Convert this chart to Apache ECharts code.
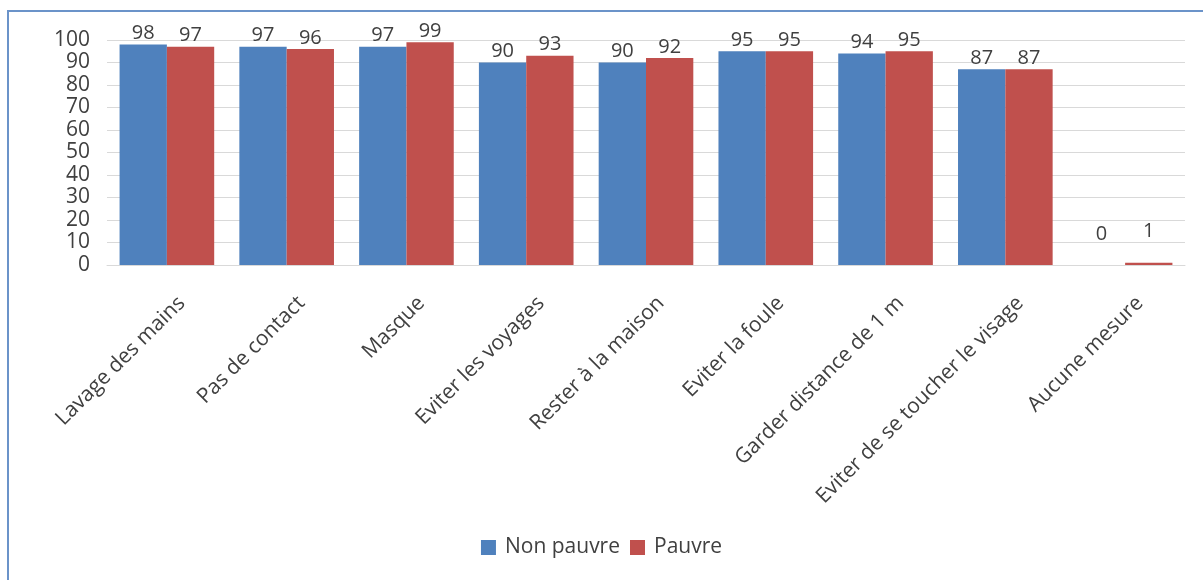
<!DOCTYPE html>
<html>
<head>
<meta charset="utf-8">
<script src="https://cdn.jsdelivr.net/npm/echarts@6/dist/echarts.min.js"></script>
<style>
  html, body { margin: 0; padding: 0; background: #fff; overflow: hidden; }
  #frame {
    position: absolute; left: 7px; top: 10px; width: 1300px; height: 700px;
    border: 2px solid #6b93c9; box-sizing: border-box;
  }
  #charts { position: absolute; left: 0; top: 0; width: 1203px; height: 580px; }
</style>
</head>
<body>
<div id="frame"></div>
<div id="charts"></div>
<script>
// categories / series
const categories = [
  'Lavage des mains', 'Pas de contact', 'Masque', 'Eviter les voyages',
  'Rester à la maison', 'Eviter la foule', 'Garder distance de 1 m',
  'Eviter de se toucher le visage', 'Aucune mesure'
]
const nonPauvre = [98, 97, 97, 90, 90, 95, 94, 87, 0]
const pauvre = [97, 96, 99, 93, 92, 95, 95, 87, 1]
const seriesNames = ['Non pauvre', 'Pauvre']

const txt = '#404040'
const font = '"Open Sans", "DejaVu Sans", sans-serif'

const chart = echarts.init(document.getElementById('charts'))

function barSeries(name, data, color) {
  return {
    name: name,
    type: 'bar',
    // tiny bars get their label lifted a bit, like the excel original
    data: data.map(v => v < 5 ? {value: v, label: {distance: 21}} : v),
    barGap: '0%',
    barCategoryGap: '21%',
    itemStyle: { color: color },
    label: {
      show: true,
      position: 'top',
      distance: 1,
      color: txt,
      fontSize: 20,
      fontFamily: font
    },
    animation: false
  }
}

chart.setOption({
  textStyle: { fontFamily: font },
  grid: { left: 107, right: 18, top: 40, bottom: 315, containLabel: false },
  legend: {
    bottom: 17,
    left: 'center',
    itemWidth: 15,
    itemHeight: 15,
    itemGap: 10,
    icon: 'rect',
    textStyle: { color: txt, fontSize: 21, fontFamily: font, padding: [0, 0, 0, 4] },
    data: seriesNames
  },
  xAxis: {
    type: 'category',
    data: categories,
    axisTick: { show: false },
    axisLine: { lineStyle: { color: '#d9d9d9', width: 1 } },
    axisLabel: {
      interval: 0,
      rotate: 45,
      margin: 20,
      verticalAlign: 'top',
      lineHeight: 42,
      color: txt,
      fontSize: 21,
      fontFamily: font
    }
  },
  yAxis: {
    type: 'value',
    min: 0,
    max: 100,
    interval: 10,
    axisLine: { show: false },
    axisTick: { show: false },
    axisLabel: { color: txt, fontSize: 21, fontFamily: font, margin: 17 },
    splitLine: { lineStyle: { color: '#d9d9d9', width: 1 } }
  },
  series: [
    barSeries(seriesNames[0], nonPauvre, '#4f81bd'),
    barSeries(seriesNames[1], pauvre, '#c0504d')
  ]
})
</script>
</body>
</html>
